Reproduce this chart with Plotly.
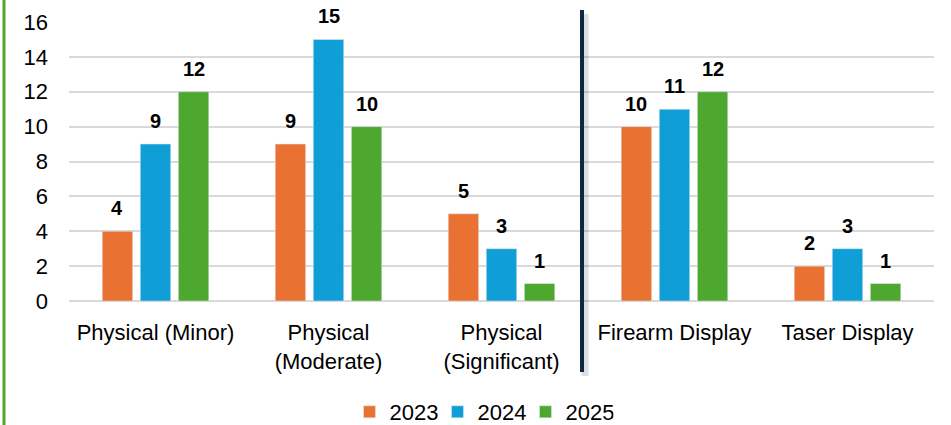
import plotly.graph_objects as go

categories = ["Physical (Minor)", "Physical<br>(Moderate)", "Physical<br>(Significant)", "Firearm Display", "Taser Display"]
years = ["2023", "2024", "2025"]
v2023 = [4, 9, 5, 10, 2]
v2024 = [9, 15, 3, 11, 3]
v2025 = [12, 10, 1, 12, 1]
colors = ["#E97132", "#0F9ED5", "#4EA72E"]

BARGAP = 0.34
slot = (1 - BARGAP) / 3

fig = go.Figure()
annotations = []
for j, (name, vals, c) in enumerate(zip(years, [v2023, v2024, v2025], colors)):
    fig.add_trace(go.Bar(x=categories, y=vals, name=name, marker_color=c))
    for i, v in enumerate(vals):
        annotations.append(dict(
            x=i + (j - 1) * slot, y=v, xref="x", yref="y", text=f"<b>{v}</b>",
            showarrow=False, yanchor="bottom", yshift=10,
            font=dict(family="Liberation Sans", size=20, color="#000000"),
        ))

W, H = 951, 425
ml, mr, mt, mb = 69, 17, 22, 124
pw, ph = W - ml - mr, H - mt - mb

def px_x(x):
    return (x - ml) / pw

def px_y(y):
    return (H - mb - y) / ph

shapes = [
    dict(type="line", xref="paper", yref="paper", x0=px_x(4), x1=px_x(4), y0=px_y(-5), y1=px_y(430),
         line=dict(color="#4EA72E", width=3)),
    dict(type="line", xref="paper", yref="paper", x0=px_x(585), x1=px_x(585), y0=px_y(14), y1=px_y(376),
         line=dict(color="rgba(0,0,0,0.13)", width=7)),
    dict(type="line", xref="paper", yref="paper", x0=px_x(582), x1=px_x(582), y0=px_y(10), y1=px_y(372),
         line=dict(color="#0E2841", width=4)),
]

fig.update_layout(
    width=W, height=H,
    margin=dict(l=ml, r=mr, t=mt, b=mb, autoexpand=False),
    plot_bgcolor="white", paper_bgcolor="white",
    barmode="group", bargap=BARGAP, bargroupgap=0.2,
    font=dict(family="Liberation Sans", size=22, color="#000000"),
    showlegend=True,
    legend=dict(orientation="h", x=px_x(481.5), xanchor="center", y=px_y(412), yanchor="middle",
                font=dict(size=22), itemwidth=30, entrywidth=43, traceorder="normal"),
    shapes=shapes,
    annotations=annotations,
)
fig.update_xaxes(showgrid=False, showline=False, ticks="", tickfont=dict(size=22),
                 ticklabelstandoff=16)
fig.update_yaxes(range=[0, 16], dtick=2, showgrid=True, gridcolor="#D9D9D9", gridwidth=1.5,
                 zeroline=True, zerolinecolor="#D9D9D9", zerolinewidth=1.5,
                 tickfont=dict(size=22), ticklabelstandoff=20, showline=False)

fig.write_html("out.html", config={"displayModeBar": False},
               post_script="document.body.style.margin='0';")
